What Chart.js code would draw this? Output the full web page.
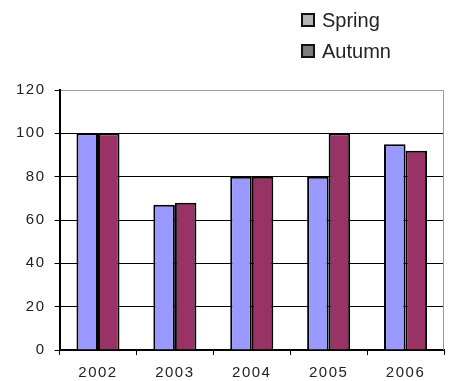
<!DOCTYPE html>
<html>
<head>
<meta charset="utf-8">
<script src="https://cdn.jsdelivr.net/npm/chart.js@4"></script>
<style>
  body { margin: 0; background: #fff; }
  #wrap { position: relative; width: 451px; height: 381px; }
  canvas { display: block; }
  #legend { position: absolute; left: 301px; top: 10px; font: 20px "Liberation Sans", Arial, sans-serif; color: #222; }
  .item { position: relative; height: 20px; line-height: 20px; margin-bottom: 11px; padding-left: 21px; white-space: nowrap; }
  .box { position: absolute; left: 0; top: 3px; width: 10px; height: 10px; border: 2px solid #111; }
</style>
</head>
<body>
<div id="wrap">
  <canvas id="chart" width="451" height="381"></canvas>
  <div id="legend"></div>
</div>
<script>
"use strict"

const years = ["2002", "2003", "2004", "2005", "2006"]
const spring = [100, 67, 80, 80, 95]
const autumn = [100, 68, 80, 100, 92]
const seriesNames = ["Spring", "Autumn"]
// legend swatches in the picture are grey
const legendSwatches = ["#b4b4b4", "#7c7c7c"]

const tickFont = { family: "'Liberation Sans', Arial, sans-serif", size: 15 }

// Разрядка подписей осей, как в оригинале
const spacing = {
  id: "spacing",
  beforeLayout(chart) { chart.ctx.letterSpacing = "1.5px" },
  beforeDraw(chart) { chart.ctx.letterSpacing = "1.5px" }
}

// Правая рамка области графика
const frame = {
  id: "frame",
  afterDatasetsDraw(chart) {
    const { ctx, chartArea: a } = chart
    ctx.save()
    ctx.strokeStyle = "#9a9a9a"
    ctx.lineWidth = 1
    ctx.beginPath()
    ctx.moveTo(a.right - 0.5, a.top)
    ctx.lineTo(a.right - 0.5, a.bottom)
    ctx.stroke()
    ctx.restore()
  }
}

const chart = new Chart(document.getElementById("chart"), {
  type: "bar",
  data: {
    labels: years,
    datasets: [{
      label: seriesNames[0],
      data: spring,
      backgroundColor: "#9999ff",
      borderColor: "#000",
      borderWidth: 2
    }, {
      label: seriesNames[1],
      data: autumn,
      backgroundColor: "#993366",
      borderColor: "#000",
      borderWidth: 2
    }]
  },
  options: {
    responsive: false,
    animation: false,
    layout: { padding: { top: 90, right: 7, left: 7, bottom: -10 } },
    datasets: { bar: { categoryPercentage: 0.56, barPercentage: 1 } },
    scales: {
      x: {
        border: { color: "#000", width: 2 },
        grid: {
          offset: true,
          drawOnChartArea: false,
          tickColor: "#000",
          tickLength: 5,
          lineWidth: 1
        },
        ticks: { color: "#222", font: tickFont, padding: 9 }
      },
      y: {
        min: 0,
        max: 120,
        border: { color: "#000", width: 2 },
        grid: {
          color: ctx => ctx.tick && ctx.tick.value === 120 ? "#9a9a9a" : "#000",
          tickColor: "#000",
          tickLength: 5,
          lineWidth: 1
        },
        ticks: { stepSize: 20, color: "#222", font: tickFont, padding: 9 }
      }
    },
    plugins: {
      legend: { display: false },
      tooltip: { enabled: false }
    }
  },
  plugins: [spacing, frame]
})

// HTML-легенда из наборов данных
const legend = document.getElementById("legend")
chart.data.datasets.forEach((ds, i) => {
  const item = document.createElement("div")
  item.className = "item"
  item.innerHTML = `<span class="box" style="background:${legendSwatches[i]}"></span>${ds.label}`
  legend.append(item)
})
</script>
</body>
</html>
